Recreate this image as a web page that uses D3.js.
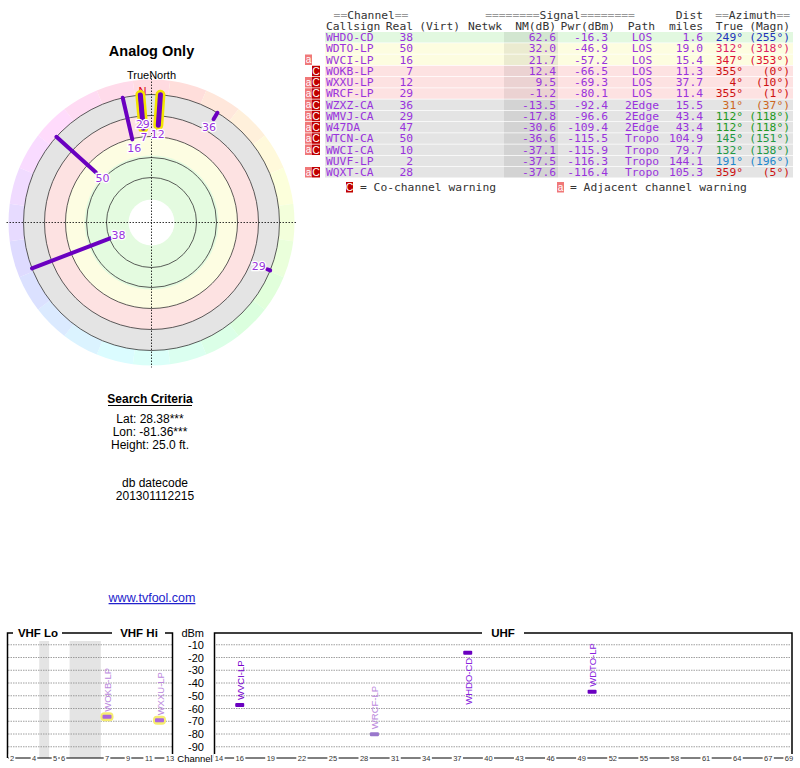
<!DOCTYPE html>
<html lang="en">
<head>
    <meta charset="UTF-8">
    <title>Analog Only</title>
    <script src="https://d3js.org/d3.v7.min.js"></script>
</head>
<style>
body { margin: 0; background: #fff; }
svg text { font-family: "Liberation Sans", Arial, sans-serif; }
.mono { font-family: "DejaVu Sans Mono", monospace; font-size: 11.3px; }
</style>
<body>
<svg id="chart" width="800" height="768"></svg>
<script>

    let stations = [
        {call: "WHDO-CD", ch: 38, nm: 62.6, pwr: -16.3, path: "LOS", dist: 1.6, az: 249, mag: 255, bg: "#e2f8e0", warn: "", azc: "#2233bb"},
        {call: "WDTO-LP", ch: 50, nm: 32.0, pwr: -46.9, path: "LOS", dist: 19.0, az: 312, mag: 318, bg: "#fdfde0", warn: "", azc: "#dd2266"},
        {call: "WVCI-LP", ch: 16, nm: 21.7, pwr: -57.2, path: "LOS", dist: 15.4, az: 347, mag: 353, bg: "#fdfde0", warn: "a", azc: "#dd1133"},
        {call: "WOKB-LP", ch: 7, nm: 12.4, pwr: -66.5, path: "LOS", dist: 11.3, az: 355, mag: 0, bg: "#fde2e2", warn: "C", azc: "#cc1111", halo: true},
        {call: "WXXU-LP", ch: 12, nm: 9.5, pwr: -69.3, path: "LOS", dist: 37.7, az: 4, mag: 10, bg: "#fde2e2", warn: "aC", azc: "#cc1111", halo: true},
        {call: "WRCF-LP", ch: 29, nm: -1.2, pwr: -80.1, path: "LOS", dist: 11.4, az: 355, mag: 1, bg: "#fde2e2", warn: "aC", azc: "#cc1111"},
        {call: "WZXZ-CA", ch: 36, nm: -13.5, pwr: -92.4, path: "2Edge", dist: 15.5, az: 31, mag: 37, bg: "#e4e4e4", warn: "aC", azc: "#cc6622"},
        {call: "WMVJ-CA", ch: 29, nm: -17.8, pwr: -96.6, path: "2Edge", dist: 43.4, az: 112, mag: 118, bg: "#e4e4e4", warn: "aC", azc: "#229922"},
        {call: "W47DA", ch: 47, nm: -30.6, pwr: -109.4, path: "2Edge", dist: 43.4, az: 112, mag: 118, bg: "#e4e4e4", warn: "aC", azc: "#229922"},
        {call: "WTCN-CA", ch: 50, nm: -36.6, pwr: -115.5, path: "Tropo", dist: 104.9, az: 145, mag: 151, bg: "#e4e4e4", warn: "aC", azc: "#229944"},
        {call: "WWCI-CA", ch: 10, nm: -37.1, pwr: -115.9, path: "Tropo", dist: 79.7, az: 132, mag: 138, bg: "#e4e4e4", warn: "aC", azc: "#229944"},
        {call: "WUVF-LP", ch: 2, nm: -37.5, pwr: -116.3, path: "Tropo", dist: 144.1, az: 191, mag: 196, bg: "#e4e4e4", warn: "", azc: "#2288cc"},
        {call: "WQXT-CA", ch: 28, nm: -37.6, pwr: -116.4, path: "Tropo", dist: 105.3, az: 359, mag: 5, bg: "#e4e4e4", warn: "aC", azc: "#cc1111"}
    ];

    let purple = "#9933dd";
    let svg = d3.select("#chart");

    // ---------- polar plot ----------
    let cx = 151.5, cy = 222.5;
    let rad = d3.scaleLinear().domain([107, -21]).range([0, 128]);   // NM(dB) -> radius
    let pt = (a, r) => [cx + r * Math.sin(a * Math.PI / 180), cy - r * Math.cos(a * Math.PI / 180)];

    svg.append("text").attr("x", cx).attr("y", 56).attr("text-anchor", "middle")
        .style("font-size", "14.5px").style("font-weight", "bold").text("Analog Only");
    svg.append("text").attr("x", cx).attr("y", 79).attr("text-anchor", "middle")
        .style("font-size", "11px").text("TrueNorth");

    let arc = d3.arc();
    let g = svg.append("g").attr("transform", `translate(${cx},${cy})`);
    d3.range(24).forEach(i => {
        g.append("path")
            .attr("d", arc({innerRadius: 127, outerRadius: 143, startAngle: (i * 15 - 7.5) * Math.PI / 180, endAngle: (i * 15 + 7.5) * Math.PI / 180}))
            .attr("fill", d3.hsl(i * 15 - 10, 1, 0.93));
    });
    [[128, "#e4e4e4"], [107, "#fde2e2"], [86, "#fdfde2"], [67, "#e4fbe0"], [23, "#fff"]].forEach(b => {
        g.append("circle").attr("r", b[0]).attr("fill", b[1]);
    });
    [128, 107, 86, 65, 45].forEach(r => {
        g.append("circle").attr("r", r).attr("fill", "none").attr("stroke", "#333").attr("stroke-width", 0.8);
    });
    g.append("line").attr("x1", -145).attr("x2", 145).attr("stroke", "#000").attr("stroke-width", 0.8).attr("stroke-dasharray", "1.5,1.5");
    g.append("line").attr("y1", -147).attr("y2", 145).attr("stroke", "#000").attr("stroke-width", 0.8).attr("stroke-dasharray", "1.5,1.5");
    svg.append("text").attr("x", cx - 9).attr("y", 95).attr("text-anchor", "middle")
        .style("font-size", "11px").attr("fill", "#dd0000").text("N");

    let shown = stations.filter(d => rad(d.nm) <= 128);
    shown.filter(d => d.halo).forEach(d => {
        let a = pt(d.az, 128), b = pt(d.az, rad(d.nm));
        svg.append("line").attr("x1", a[0]).attr("y1", a[1]).attr("x2", b[0]).attr("y2", b[1])
            .attr("stroke", "#f4e400").attr("stroke-width", 10).attr("stroke-linecap", "round");
    });
    shown.forEach(d => {
        let a = pt(d.az, 128), b = pt(d.az, rad(d.nm));
        svg.append("line").attr("x1", a[0]).attr("y1", a[1]).attr("x2", b[0]).attr("y2", b[1])
            .attr("stroke", "#6a00c0").attr("stroke-width", d.halo ? 5 : 4).attr("stroke-linecap", "round");
    });
    shown.forEach(d => {
        let p = pt(d.az, rad(d.nm) - 9);
        svg.append("text").attr("x", p[0]).attr("y", p[1] + 4).attr("text-anchor", "middle")
            .style("font-size", "11px").style("font-family", "DejaVu Sans, sans-serif")
            .attr("fill", purple).attr("stroke", "#fff").attr("stroke-width", 2.5)
            .attr("paint-order", "stroke").text(d.ch);
    });

    // ---------- search criteria ----------
    svg.append("text").attr("x", 150).attr("y", 403).attr("text-anchor", "middle")
        .style("font-size", "12px").style("font-weight", "bold").text("Search Criteria");
    svg.append("line").attr("x1", 108).attr("x2", 192).attr("y1", 405.5).attr("y2", 405.5).attr("stroke", "#000");
    ["Lat: 28.38***", "Lon: -81.36***", "Height: 25.0 ft."].forEach((t, i) => {
        svg.append("text").attr("x", 150).attr("y", 423 + i * 13).attr("text-anchor", "middle").style("font-size", "12px").text(t);
    });
    ["db datecode", "201301112215"].forEach((t, i) => {
        svg.append("text").attr("x", 155).attr("y", 487 + i * 12.5).attr("text-anchor", "middle").style("font-size", "12px").text(t);
    });
    svg.append("text").attr("x", 152).attr("y", 602).attr("text-anchor", "middle")
        .style("font-size", "12.5px").attr("fill", "#2222cc").attr("text-decoration", "underline").text("www.tvfool.com");

    // ---------- table ----------
    let rowY = d3.scaleLinear().domain([0, 1]).range([32, 43.25]);
    let t = svg.append("g");
    let head = (x, y, anchor, parts) => {
        let e = t.append("text").attr("class", "mono").attr("x", x).attr("y", y).attr("text-anchor", anchor);
        parts.forEach(p => e.append("tspan").attr("fill", p[1]).text(p[0]));
    };
    let gr = "#999", dk = "#333";
    head(371, 19, "middle", [["==", gr], ["Channel", dk], ["==", gr]]);
    head(560, 19, "middle", [["========", gr], ["Signal", dk], ["========", gr]]);
    head(703, 19, "end", [["Dist", dk]]);
    head(790, 19, "end", [["==", gr], ["Azimuth", dk], ["==", gr]]);
    [["Callsign", 326, "start"], ["Real", 413, "end"], ["(Virt)", 460, "end"], ["Netwk", 502, "end"],
     ["NM(dB)", 556, "end"], ["Pwr(dBm)", 615, "end"], ["Path", 655, "end"], ["miles", 703, "end"],
     ["True", 743, "end"], ["(Magn)", 790, "end"]].forEach(h => head(h[1], 30, h[2], [[h[0], dk]]));

    stations.forEach((d, i) => {
        let y = rowY(i);
        t.append("rect").attr("x", 325).attr("y", y).attr("width", 468).attr("height", 10.5).attr("fill", d.bg);
        t.append("rect").attr("x", 504).attr("y", y).attr("width", 54).attr("height", 10.5).attr("fill", "#000").attr("opacity", 0.07);
        let txt = (x, anchor, s, c) => t.append("text").attr("class", "mono").attr("x", x).attr("y", y + 9)
            .attr("text-anchor", anchor).attr("fill", c || purple).text(s);
        txt(326, "start", d.call);
        txt(413, "end", d.ch);
        txt(556, "end", d.nm.toFixed(1));
        txt(608, "end", d.pwr.toFixed(1));
        txt(642, "middle", d.path);
        txt(703, "end", d.dist.toFixed(1));
        txt(743, "end", d.az + "°", d.azc);
        txt(790, "end", "(" + d.mag + "°)", d.azc);
        if (d.warn.includes("a")) {
            t.append("rect").attr("x", 305).attr("y", y).attr("width", 7).attr("height", 10.5).attr("fill", "#f07878");
            t.append("text").attr("x", 308.5).attr("y", y + 8.5).attr("text-anchor", "middle").attr("fill", "#fff").style("font-size", "10px").text("a");
        }
        if (d.warn.includes("C")) {
            t.append("rect").attr("x", 312).attr("y", y).attr("width", 8).attr("height", 10.5).attr("fill", "#c00000");
            t.append("text").attr("x", 316).attr("y", y + 9).attr("text-anchor", "middle").attr("fill", "#fff").style("font-size", "10.5px").text("C");
        }
    });
    // legend
    t.append("rect").attr("x", 346).attr("y", 182).attr("width", 7).attr("height", 10.5).attr("fill", "#c00000");
    t.append("text").attr("x", 349.5).attr("y", 191).attr("text-anchor", "middle").attr("fill", "#fff").style("font-size", "10.5px").text("C");
    t.append("text").attr("class", "mono").attr("x", 360).attr("y", 191).attr("fill", dk).text("= Co-channel warning");
    t.append("rect").attr("x", 557).attr("y", 182).attr("width", 7).attr("height", 10.5).attr("fill", "#f07878");
    t.append("text").attr("x", 560.5).attr("y", 190.5).attr("text-anchor", "middle").attr("fill", "#fff").style("font-size", "10px").text("a");
    t.append("text").attr("class", "mono").attr("x", 570).attr("y", 191).attr("fill", dk).text("= Adjacent channel warning");

    // ---------- spectrum ----------
    let y = d3.scaleLinear().domain([0, -100]).range([632, 759.5]);
    let xv = d3.scaleLinear().domain([2, 4, 5, 6, 7, 13]).range([12, 34, 55, 63, 107, 170]);
    let xu = d3.scaleLinear().domain([14, 69]).range([219, 789]);
    let topY = 633, base = 758;
    let sp = svg.append("g");

    [[4.25, 4.72], [6.15, 6.86]].forEach(b => {
        sp.append("rect").attr("x", xv(b[0])).attr("y", topY + 8).attr("width", xv(b[1]) - xv(b[0])).attr("height", base - topY - 8).attr("fill", "#e4e4e4");
    });
    d3.range(-10, -91, -10).forEach(v => {
        [[8, 172], [216, 791]].forEach(r => sp.append("line").attr("x1", r[0]).attr("x2", r[1]).attr("y1", y(v)).attr("y2", y(v))
            .attr("stroke", "#888").attr("stroke-width", 0.8).attr("stroke-dasharray", "1.5,1"));
        sp.append("text").attr("x", 204).attr("y", y(v) + 4).attr("text-anchor", "end").style("font-size", "11px").text(v);
    });
    sp.append("text").attr("x", 204).attr("y", 637).attr("text-anchor", "end").style("font-size", "11px").text("dBm");

    // frames
    let frame = "#000";
    sp.append("path").attr("d", `M7.5,${base}V${topY}H13 M62,${topY}H112 M165,${topY}H172.5V${base}`).attr("fill", "none").attr("stroke", frame).attr("stroke-width", 1.5);
    sp.append("path").attr("d", `M214.5,${base}V${topY}H482 M524,${topY}H792V${base}`).attr("fill", "none").attr("stroke", frame).attr("stroke-width", 1.5);
    [["VHF Lo", 38], ["VHF Hi", 139], ["UHF", 503]].forEach(l => sp.append("text").attr("x", l[1]).attr("y", 637)
        .attr("text-anchor", "middle").style("font-size", "11.5px").style("font-weight", "bold").text(l[0]));

    // channel axes
    sp.append("line").attr("x1", 8).attr("x2", 172).attr("y1", base).attr("y2", base).attr("stroke", "#000");
    sp.append("line").attr("x1", 215).attr("x2", 791).attr("y1", base).attr("y2", base).attr("stroke", "#000");
    let tick = (x, s) => {
        sp.append("rect").attr("x", x - s.length * 2.3 - 1).attr("y", base - 4).attr("width", s.length * 4.6 + 2).attr("height", 8).attr("fill", "#fff");
        sp.append("text").attr("x", x).attr("y", base + 3).attr("text-anchor", "middle").style("font-size", "7.5px").attr("fill", "#333").text(s);
    };
    [2, 4, 5, 6, 7, 9, 11, 13].forEach(c => tick(xv(c), String(c)));
    [14, 16, 19, 22, 25, 28, 31, 34, 37, 40, 43, 46, 49, 52, 55, 58, 61, 64, 67, 69].forEach(c => tick(xu(c), String(c)));
    sp.append("rect").attr("x", 177).attr("y", base - 6).attr("width", 36).attr("height", 12).attr("fill", "#fff");
    sp.append("text").attr("x", 195).attr("y", base + 4).attr("text-anchor", "middle").style("font-size", "9.5px").text("Channel");

    // station markers
    stations.filter(d => d.pwr > -90).forEach(d => {
        let x = d.ch <= 13 ? xv(d.ch) : xu(d.ch), yy = y(d.pwr);
        let weak = d.warn.includes("C");
        let fill = weak ? (d.halo ? "#aa66dd" : "#9977cc") : "#6a00c0";
        let lab = weak ? "#bb88dd" : (d.warn ? "#7700cc" : "#8822dd");
        if (d.halo) sp.append("rect").attr("x", x - 6.5).attr("y", yy - 4.5).attr("width", 13).attr("height", 9).attr("rx", 4).attr("fill", "#f6ec70");
        sp.append("rect").attr("x", x - 4.5).attr("y", yy - 2).attr("width", 9).attr("height", 4).attr("rx", 1).attr("fill", fill);
        let below = yy < 670;
        sp.append("text").attr("transform", `translate(${x + 4},${below ? yy + 5 : yy - 5}) rotate(-90)`)
            .attr("text-anchor", below ? "end" : "start").style("font-size", "9.5px").attr("fill", lab).text(d.call);
    });

</script>
</body>
</html>
